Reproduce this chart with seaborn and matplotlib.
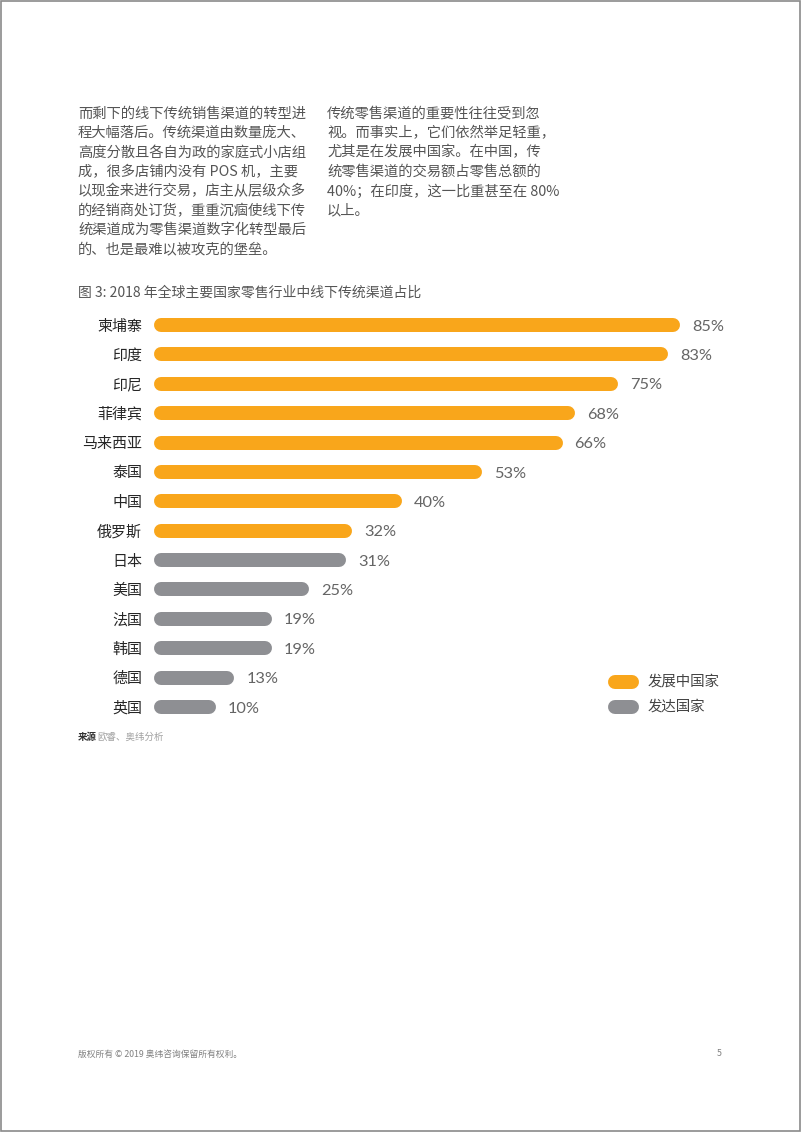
import matplotlib
matplotlib.use("Agg")
import matplotlib.pyplot as plt
import seaborn as sns
import pandas as pd
from matplotlib.lines import Line2D
from matplotlib.patches import Rectangle

# ---- data ----
countries = ['柬埔寨', '印度', '印尼', '菲律宾', '马来西亚', '泰国', '中国', '俄罗斯',
             '日本', '美国', '法国', '韩国', '德国', '英国']
values = [85, 83, 75, 68, 66, 53, 40, 32, 31, 25, 19, 19, 13, 10]
groups = ['发展中国家'] * 8 + ['发达国家'] * 6
group_names = ['发展中国家', '发达国家']
group_colors = ['#F9A61B', '#8E8F93']

title = '图 3: 2018 年全球主要国家零售行业中线下传统渠道占比'
left_para = ['而剩下的线下传统销售渠道的转型进',
             '程大幅落后。传统渠道由数量庞大、',
             '高度分散且各自为政的家庭式小店组',
             '成，很多店铺内没有 POS 机，主要',
             '以现金来进行交易，店主从层级众多',
             '的经销商处订货，重重沉痼使线下传',
             '统渠道成为零售渠道数字化转型最后',
             '的、也是最难以被攻克的堡垒。']
right_para = ['传统零售渠道的重要性往往受到忽',
              '视。而事实上，它们依然举足轻重，',
              '尤其是在发展中国家。在中国，传',
              '统零售渠道的交易额占零售总额的',
              '40%；在印度，这一比重甚至在 80%',
              '以上。']
source_label = '来源'
source_text = '欧睿、奥纬分析'
footer = '版权所有 © 2019 奥纬咨询保留所有权利。'
page_no = '5'

sns.set_theme(style='white')
CJK = ['Noto Sans CJK SC', 'DejaVu Sans']
plt.rcParams['font.family'] = CJK

W, H = 802, 1133
fig = plt.figure(figsize=(W / 100, H / 100), dpi=100)
fig.patch.set_facecolor('white')


def fx(x):
    return x / W


def fy(y):
    return 1 - y / H


# ---- axes placement ----
x0_px, px_per_unit = 154, 6.19
xmax = 100
ax_w = xmax * px_per_unit
step = (707 - 325) / 13
top_px = 325 - step / 2
bot_px = 707 + step / 2
ax = fig.add_axes([fx(x0_px), fy(bot_px), ax_w / W, (bot_px - top_px) / H])

df = pd.DataFrame({'country': countries, 'value': values, 'group': groups})
sns.barplot(data=df, x='value', y='country', hue='group', hue_order=group_names,
            palette=group_colors, dodge=False, width=0.48, legend=False, ax=ax,
            saturation=1)
ax.set_xlim(0, xmax)
ax.set_ylim(len(countries) - 0.5, -0.5)

# replace rectangular bars with round-capped pills
bar_px = 14
lw_pt = bar_px * 72 / 100
r = (bar_px / 2) / px_per_unit
for p in list(ax.patches):
    w = p.get_width()
    if w <= 0:
        p.remove()
        continue
    yc = p.get_y() + p.get_height() / 2
    col = p.get_facecolor()
    p.remove()
    ax.plot([r, w - r], [yc, yc], color=col, lw=lw_pt, solid_capstyle='round')

dy = 1.6 / step  # small downward nudge of the value labels
for i, v in enumerate(values):
    ax.text(v + 12 / px_per_unit, i + dy, f'{v}%', va='center', ha='left',
            fontsize=11.8, color='#656565', family=['Lato', 'DejaVu Sans'])

ax.set_xlabel('')
ax.set_ylabel('')
ax.set_xticks([])
ax.tick_params(axis='y', left=False, pad=2.5)
for lab in ax.get_yticklabels():
    lab.set_fontsize(10.8)
    lab.set_color('#262626')
    lab.set_family(CJK)
    lab.set_fontweight('medium')
for s in ax.spines.values():
    s.set_visible(False)
ax.set_facecolor('none')

# ---- page texts ----
for i, line in enumerate(left_para):
    fig.text(fx(78), fy(113.5 + 19.4 * i), line, fontsize=10.3, color='#555555',
             va='center', ha='left')
for i, line in enumerate(right_para):
    fig.text(fx(327), fy(113.5 + 19.4 * i), line, fontsize=10.3, color='#555555',
             va='center', ha='left')

fig.text(fx(78), fy(293), title, fontsize=10, color='#555555', va='center', ha='left')

# legend (manual pills)
for k, (name, col) in enumerate(zip(group_names, group_colors)):
    yy = 682 + 25 * k
    fig.add_artist(Line2D([fx(615), fx(632)], [fy(yy), fy(yy)], color=col, lw=lw_pt,
                          solid_capstyle='round', transform=fig.transFigure))
    fig.text(fx(648), fy(yy), name, fontsize=10.4, color='#444444', va='center', ha='left')

# source
fig.text(fx(78), fy(737), source_label, fontsize=6.8, color='#333333',
         fontweight='bold', va='center', ha='left')
fig.text(fx(97), fy(737), source_text, fontsize=6.8, color='#a0a0a0', va='center', ha='left')

# footer
fig.text(fx(78), fy(1054), footer, fontsize=6.3, color='#808080', va='center', ha='left')
fig.text(fx(722), fy(1054), page_no, fontsize=6.3, color='#808080', va='center', ha='right')

# page border
fig.add_artist(Rectangle((fx(0.8), fy(1131)), (800 - 0.8) / W, (1131 - 0.8) / H,
                         fill=False, edgecolor='#8a8a8a', lw=1.2,
                         transform=fig.transFigure))

fig.savefig('out.png', dpi=100, facecolor='white')
